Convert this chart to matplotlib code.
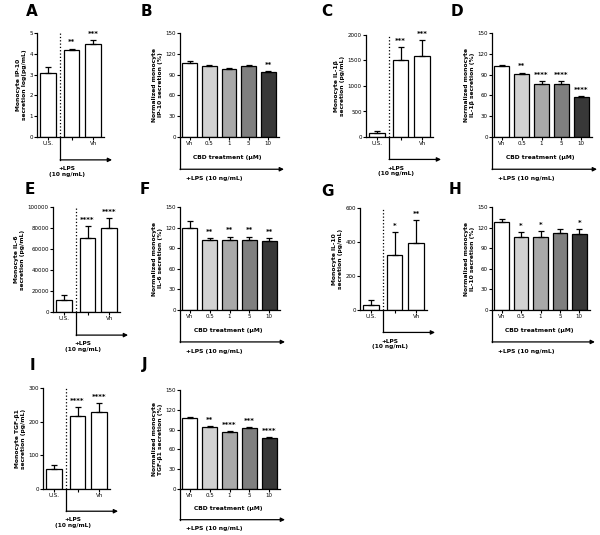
import numpy as np
import matplotlib
matplotlib.use('Agg')
import matplotlib.pyplot as plt

# two-group panels: U.S., +LPS, +LPS Vh
grp_labels = ['U.S.', '', 'Vh']
A_vals = [3.1, 4.2, 4.45]
A_err = [0.25, 0.05, 0.2]
A_stars = ['', '**', '***']
C_vals = [80, 1500, 1580]
C_err = [40, 270, 330]
C_stars = ['', '***', '***']
E_vals = [11000, 70500, 80000]
E_err = [5000, 11500, 9500]
E_stars = ['', '****', '****']
G_vals = [30, 323, 394]
G_err = [30, 137, 136]
G_stars = ['', '*', '**']
I_vals = [59, 217, 229]
I_err = [12, 26, 26]
I_stars = ['', '****', '****']

# CBD dose panels (normalized, %)
doses = ['Vh', '0.5', '1', '5', '10']
B_vals = [107, 102, 98, 102, 94]
B_err = [2, 2, 1.5, 2, 1.5]
B_stars = ['', '', '', '', '**']
D_vals = [103, 91, 76, 76, 57]
D_err = [1, 2, 5, 5, 2]
D_stars = ['', '**', '****', '****', '****']
F_vals = [120, 102, 102, 102, 100]
F_err = [9, 3, 5, 5, 5]
F_stars = ['', '**', '**', '**', '**']
H_vals = [128, 106, 106, 112, 110]
H_err = [5, 8, 9, 6, 8]
H_stars = ['', '*', '*', '', '*']
J_vals = [107, 94, 86, 92, 77]
J_err = [1.5, 1.5, 2, 2, 1.5]
J_stars = ['', '**', '****', '***', '****']

grays = ['white', '#d2d2d2', '#a9a9a9', '#7f7f7f', '#383838']

W, H = 600, 535
fig = plt.figure(figsize=(6, 5.35), dpi=100)


def box(x0, y0, x1, y1):
    return [x0 / W, 1 - y1 / H, (x1 - x0) / W, (y1 - y0) / H]


def style(ax, ylim, ystep, ylabel):
    for s in ['top', 'right']:
        ax.spines[s].set_visible(False)
    for s in ['left', 'bottom']:
        ax.spines[s].set_linewidth(0.9)
    ax.set_ylim(0, ylim)
    ax.set_yticks(np.arange(0, ylim + ystep / 2, ystep))
    ax.tick_params(length=2, width=0.8, pad=1, labelsize=4)
    ax.set_ylabel(ylabel, fontsize=4.3, fontweight='bold', labelpad=2, linespacing=1.2)


def bars(ax, xs, vals, errs, stars, colors, width, ylim):
    ax.bar(xs, vals, width=width, color=colors, edgecolor='black', linewidth=0.9, zorder=2)
    ax.errorbar(xs, vals, yerr=[np.zeros(len(vals)), errs], fmt='none', ecolor='black',
                elinewidth=0.9, capsize=2, capthick=0.9, zorder=3)
    for x, v, e, s in zip(xs, vals, errs, stars):
        if s:
            ax.text(x, v + e + ylim * 0.03, s, ha='center', va='bottom', fontsize=5,
                    fontweight='bold')


def letter(ch, x, y):
    fig.text(x / W, 1 - y / H, ch, ha='center', va='center', fontsize=11, fontweight='bold')


def lps_panel(rect, vals, errs, stars, ylim, ystep, ylabel):
    ax = fig.add_axes(box(*rect))
    xs = [0, 1.1, 2.1]
    bars(ax, xs, vals, errs, stars, ['white'] * 3, 0.72, ylim)
    x0, x1 = -0.5, 2.6
    ax.set_xlim(x0, x1)
    ax.set_xticks(xs, grp_labels)
    dash = 0.57
    ax.axvline(dash, ls=':', color='black', lw=0.9)
    f = (dash - x0) / (x1 - x0)
    ax.plot([f, f], [0, -0.22], transform=ax.transAxes, clip_on=False, color='black', lw=0.9)
    ax.annotate('', xy=(1.12, -0.22), xytext=(f, -0.22), xycoords='axes fraction',
                arrowprops=dict(arrowstyle='-|>', color='black', lw=0.9, mutation_scale=6,
                                shrinkA=0, shrinkB=0))
    ax.text(f + 0.1, -0.28, '+LPS\n(10 ng/mL)', transform=ax.transAxes, ha='center',
            va='top', fontsize=4.2, fontweight='bold')
    style(ax, ylim, ystep, ylabel)
    return ax


def cbd_panel(rect, vals, errs, stars, ylabel):
    ax = fig.add_axes(box(*rect))
    xs = np.arange(5)
    bars(ax, xs, vals, errs, stars, grays, 0.75, 150)
    ax.set_xlim(-0.5, 4.55)
    ax.set_xticks(xs, doses)
    ax.text(0.48, -0.2, 'CBD treatment (μM)', transform=ax.transAxes, ha='center',
            va='center', fontsize=4.3, fontweight='bold')
    ax.plot([0, 0], [0, -0.31], transform=ax.transAxes, clip_on=False, color='black', lw=0.9)
    ax.annotate('', xy=(1.05, -0.31), xytext=(0, -0.31), xycoords='axes fraction',
                arrowprops=dict(arrowstyle='-|>', color='black', lw=0.9, mutation_scale=6,
                                shrinkA=0, shrinkB=0))
    ax.text(0.06, -0.4, '+LPS (10 ng/mL)', transform=ax.transAxes, ha='left',
            va='center', fontsize=4.3, fontweight='bold')
    style(ax, 150, 30, ylabel)
    return ax


lps_panel((37, 33, 104, 137), A_vals, A_err, A_stars, 5, 1,
          'Monocyte IP-10\nsecretion log(pg/mL)')
lps_panel((366, 35, 433, 137), C_vals, C_err, C_stars, 2000, 500,
          'Monocyte IL-1β\nsecretion (pg/mL)')
lps_panel((53, 207, 120, 312), E_vals, E_err, E_stars, 100000, 20000,
          'Monocyte IL-6\nsecretion (pg/mL)')
lps_panel((360, 208, 427, 310), G_vals, G_err, G_stars, 600, 200,
          'Monocyte IL-10\nsecretion (pg/mL)')
lps_panel((43, 388, 110, 489), I_vals, I_err, I_stars, 300, 100,
          'Monocyte TGF-β1\nsecretion (pg/mL)')

cbd_panel((180, 33, 279, 137), B_vals, B_err, B_stars,
          'Normalized monocyte\nIP-10 secretion (%)')
cbd_panel((492, 33, 592, 137), D_vals, D_err, D_stars,
          'Normalized monocyte\nIL-1β secretion (%)')
cbd_panel((180, 207, 280, 310), F_vals, F_err, F_stars,
          'Normalized monocyte\nIL-6 secretion (%)')
cbd_panel((492, 207, 590, 310), H_vals, H_err, H_stars,
          'Normalized monocyte\nIL-10 secretion (%)')
cbd_panel((180, 390, 280, 489), J_vals, J_err, J_stars,
          'Normalized monocyte\nTGF-β1 secretion (%)')

for ch, x, y in [('A', 32, 12), ('B', 146, 12), ('C', 327, 11), ('D', 457, 12),
                 ('E', 30, 190), ('F', 145, 190), ('G', 328, 192), ('H', 455, 190),
                 ('I', 32, 365), ('J', 145, 365)]:
    letter(ch, x, y)

fig.savefig('out.png', dpi=100)
